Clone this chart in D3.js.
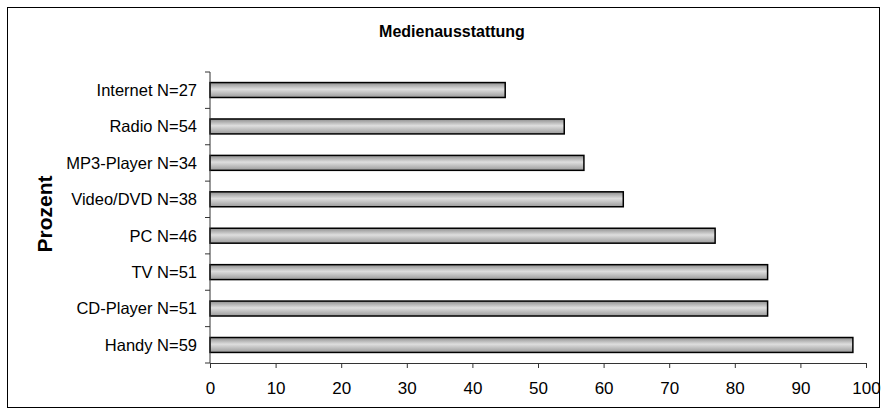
<!DOCTYPE html>
<html>
<head>
<meta charset="utf-8">
<script src="https://cdn.jsdelivr.net/npm/d3@7"></script>
<style>
  body { margin: 0; background: #fff; }
  text { font-family: "Liberation Sans", Arial, sans-serif; }
</style>
</head>
<body>
<div id="chart"></div>
<script>
// Daten
const categories = ["Internet N=27", "Radio N=54", "MP3-Player N=34", "Video/DVD N=38",
                    "PC N=46", "TV N=51", "CD-Player N=51", "Handy N=59"];
const values = [45, 54, 57, 63, 77, 85, 85, 98];
const xTicks = [0, 10, 20, 30, 40, 50, 60, 70, 80, 90, 100];

const width = 886, height = 414;
const plotTop = 72, plotBottom = 363;

const svg = d3.select("#chart").append("svg")
    .attr("width", width)
    .attr("height", height);

// Rahmen
svg.append("rect")
    .attr("x", 7.5).attr("y", 7.5)
    .attr("width", 872).attr("height", 400)
    .attr("fill", "#fff")
    .attr("stroke", "#000")
    .attr("stroke-width", 1);

// Verlauf für die Balken
const grad = svg.append("defs").append("linearGradient")
    .attr("id", "barGrad")
    .attr("x1", 0).attr("y1", 0).attr("x2", 0).attr("y2", 1);
grad.append("stop").attr("offset", "0%").attr("stop-color", "#8e8e8e");
grad.append("stop").attr("offset", "45%").attr("stop-color", "#dedede");
grad.append("stop").attr("offset", "100%").attr("stop-color", "#9a9a9a");

const x = d3.scaleLinear()
    .domain([0, 100])
    .range([210, 866]);

const y = d3.scaleBand()
    .domain(categories)
    .range([plotTop, plotBottom])
    .paddingInner(0.59)
    .paddingOuter(0.29);

// Balken
svg.selectAll(".bar")
    .data(categories)
    .enter()
    .append("rect")
    .attr("class", "bar")
    .attr("x", x(0))
    .attr("y", d => y(d))
    .attr("width", (d, i) => x(values[i]) - x(0))
    .attr("height", y.bandwidth())
    .attr("fill", "url(#barGrad)")
    .attr("stroke", "#000")
    .attr("stroke-width", 1.5);

// X-Achse
const xAxis = svg.append("g")
    .attr("transform", `translate(0,${plotBottom})`)
    .call(d3.axisBottom(x).tickValues(xTicks).tickSize(5).tickSizeOuter(0));
xAxis.selectAll("text")
    .attr("font-size", 17)
    .attr("font-family", "Liberation Sans, Arial, sans-serif")
    .attr("fill", "#000")
    .attr("y", 31)
    .attr("dy", 0);
xAxis.selectAll("line, path").attr("stroke", "#333");

// Y-Achse (Striche an den Kategoriegrenzen)
const yAxis = svg.append("g")
    .attr("transform", `translate(${x(0)},0)`);
yAxis.append("line")
    .attr("x1", 0).attr("x2", 0)
    .attr("y1", plotTop).attr("y2", plotBottom)
    .attr("stroke", "#333");
const bounds = d3.range(categories.length + 1).map(i => plotTop + i * (plotBottom - plotTop) / categories.length);
yAxis.selectAll(".ytick")
    .data(bounds)
    .enter()
    .append("line")
    .attr("x1", -5).attr("x2", 0)
    .attr("y1", d => d).attr("y2", d => d)
    .attr("stroke", "#333");

svg.selectAll(".ylabel")
    .data(categories)
    .enter()
    .append("text")
    .attr("x", 197)
    .attr("y", d => y(d) + y.bandwidth() / 2)
    .attr("dy", "0.36em")
    .attr("text-anchor", "end")
    .attr("font-size", 16.5)
    .text(d => d);

// Titel
svg.append("text")
    .attr("x", 452)
    .attr("y", 37)
    .attr("text-anchor", "middle")
    .attr("font-size", 16)
    .attr("font-weight", "bold")
    .text("Medienausstattung");

// Achsentitel
svg.append("text")
    .attr("transform", "translate(52,214) rotate(-90)")
    .attr("text-anchor", "middle")
    .attr("font-size", 21)
    .attr("font-weight", "bold")
    .text("Prozent");
</script>
</body>
</html>
